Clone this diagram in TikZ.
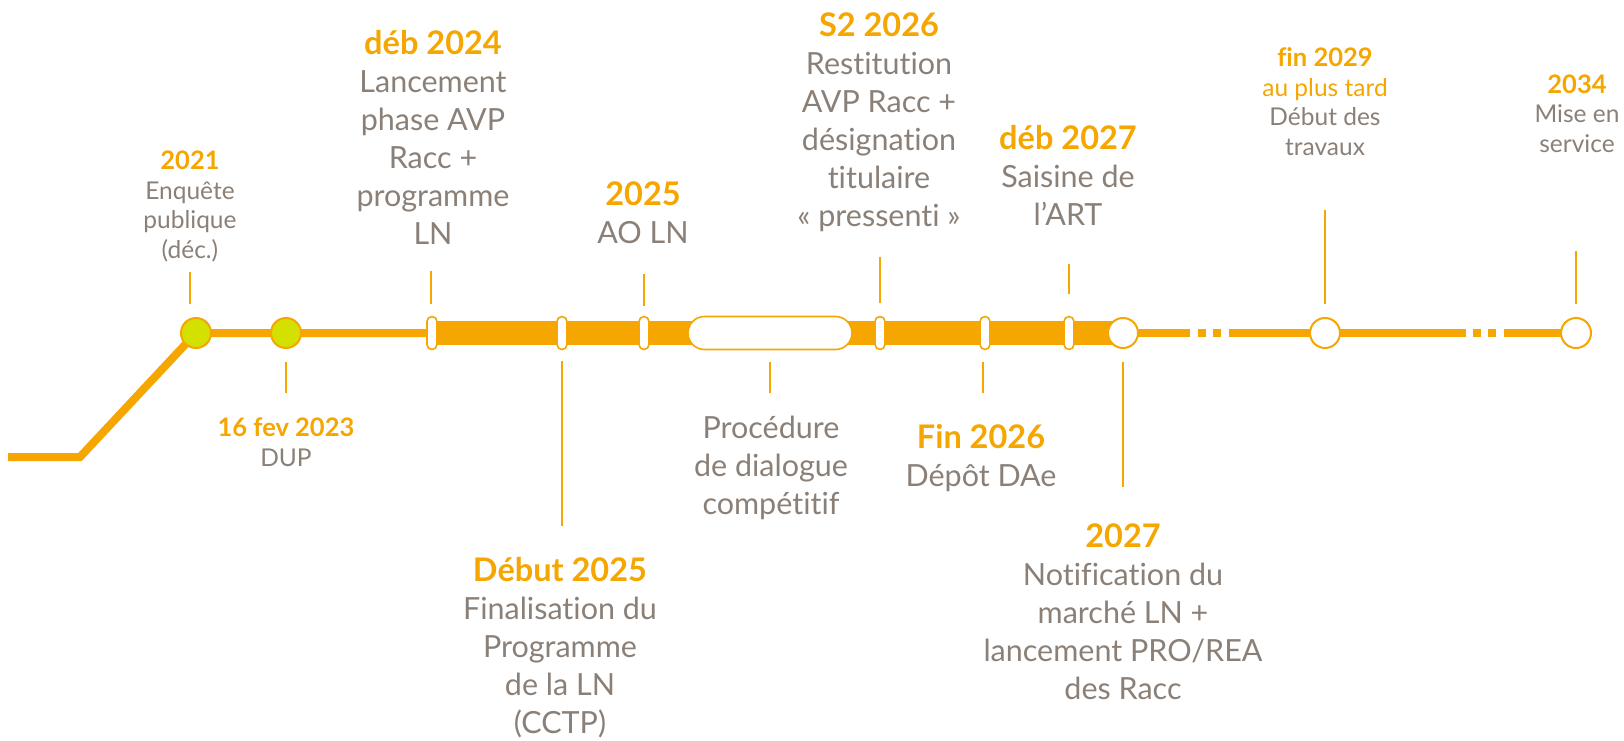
\documentclass[tikz,border=0pt]{standalone}
\usepackage{fontspec}
\setmainfont{Lato}[Ligatures={NoCommon}]
\definecolor{orng}{RGB}{245,166,0}
\definecolor{gry}{RGB}{138,128,119}
\definecolor{lime}{RGB}{212,224,0}
\begin{document}
\begin{tikzpicture}[x=1pt,y=-1pt,
  thintrack/.style={draw=orng,line width=8pt},
  thicktrack/.style={draw=orng,line width=24pt},
  tickline/.style={draw=orng,line width=1.6pt},
  pill/.style={draw=orng,fill=white,line width=1.6pt,rounded corners=5pt,minimum width=10pt,minimum height=33pt,inner sep=0pt},
  bigpill/.style={draw=orng,fill=white,line width=1.6pt,rounded corners=16.5pt,minimum width=164pt,minimum height=33pt,inner sep=0pt},
  ring/.style={circle,draw=orng,fill=white,line width=2pt,minimum size=30pt,inner sep=0pt},
  greendot/.style={circle,draw=orng,fill=lime,line width=2pt,minimum size=30pt,inner sep=0pt},
  sq/.style={fill=orng,minimum size=8pt,inner sep=0pt},
  biglabel/.style={align=center,font=\fontsize{30.5}{38}\selectfont,text=gry,anchor=base,inner sep=0pt},
  smalllabel/.style={align=center,font=\fontsize{24.5}{29.5}\selectfont,text=gry,anchor=base,inner sep=0pt}
]
\useasboundingbox (0,0) rectangle (1624,740);
\newcommand{\hdr}[1]{{\fontsize{32.5}{38}\selectfont\color{orng}\bfseries #1}}
\newcommand{\shdr}[1]{{\fontsize{25.5}{29.5}\selectfont\color{orng}\bfseries #1}}
% coordinates of milestones
\coordinate (start) at (8,457);
\coordinate (bend) at (80,457);
\coordinate (p1) at (196,333);
\coordinate (p2) at (286,333);
\coordinate (p3) at (432,333);
\coordinate (p4) at (562,333);
\coordinate (p5) at (644,333);
\coordinate (p6) at (770,333);
\coordinate (p7) at (880,333);
\coordinate (p8) at (985,333);
\coordinate (p9) at (1069,333);
\coordinate (p10) at (1123,333);
\coordinate (p11) at (1325,333);
\coordinate (p12) at (1576,333);
\coordinate (d1) at (1190,333);
\coordinate (d2) at (1229,333);
\coordinate (d3) at (1466,333);
\coordinate (d4) at (1504,333);
% track
\draw[thintrack] (start) -- (bend) -- (p1) -- (p3);
\draw[thicktrack] (p3) -- (p10);
\draw[thintrack] (p10) -- (d1);
\draw[thintrack] (d2) -- (d3);
\draw[thintrack] (d4) -- (p12);
\node[sq] (s1) at (1202,333) {};
\node[sq] (s2) at (1217,333) {};
\node[sq] (s3) at (1477,333) {};
\node[sq] (s4) at (1492,333) {};
% milestones
\node[greendot] (m1) at (p1) {};
\node[greendot] (m2) at (p2) {};
\node[pill] (m3) at (p3) {};
\node[pill] (m4) at (p4) {};
\node[pill] (m5) at (p5) {};
\node[bigpill] (m6) at (p6) {};
\node[pill] (m7) at (p7) {};
\node[pill] (m8) at (p8) {};
\node[pill] (m9) at (p9) {};
\node[ring] (m10) at (p10) {};
\node[ring] (m11) at (p11) {};
\node[ring] (m12) at (p12) {};
% ticks
\coordinate (t1a) at (190,272); \coordinate (t1b) at (190,304);
\coordinate (t2a) at (286,362); \coordinate (t2b) at (286,393);
\coordinate (t3a) at (431,271); \coordinate (t3b) at (431,304);
\coordinate (t4a) at (562,361); \coordinate (t4b) at (562,526);
\coordinate (t5a) at (644,274); \coordinate (t5b) at (644,306);
\coordinate (t6a) at (770,362); \coordinate (t6b) at (770,393);
\coordinate (t7a) at (880,257); \coordinate (t7b) at (880,303);
\coordinate (t8a) at (983,362); \coordinate (t8b) at (983,393);
\coordinate (t9a) at (1069,264); \coordinate (t9b) at (1069,294);
\coordinate (t10a) at (1123,362); \coordinate (t10b) at (1123,487);
\coordinate (t11a) at (1325,210); \coordinate (t11b) at (1325,304);
\coordinate (t12a) at (1576,251); \coordinate (t12b) at (1576,304);
\foreach \i in {1,...,12} {\draw[tickline] (t\i a) -- (t\i b);}
% labels (anchor = baseline of the last line)
\node[smalllabel] (l1) at (190,258) {\shdr{2021}\\Enquête\\publique\\(déc.)};
\node[smalllabel] (l2) at (286,466) {\shdr{16 fev 2023}\\DUP};
\node[biglabel] (l3) at (433,244) {\hdr{déb 2024}\\Lancement\\phase AVP\\Racc +\\programme\\LN};
\node[biglabel] (l4) at (560,733) {\hdr{Début 2025}\\Finalisation du\\Programme\\de la LN\\(CCTP)};
\node[biglabel] (l5) at (643,243) {\hdr{2025}\\AO LN};
\node[biglabel] (l6) at (771,514) {Procédure\\de dialogue\\compétitif};
\node[biglabel] (l7) at (879,226) {\hdr{S2 2026}\\Restitution\\AVP Racc +\\désignation\\titulaire\\« pressenti »};
\node[biglabel] (l8) at (981,486) {\hdr{Fin 2026}\\Dépôt DAe};
\node[biglabel] (l9) at (1068,225) {\hdr{déb 2027}\\Saisine de\\l’ART};
\node[biglabel] (l10) at (1123,699) {\hdr{2027}\\Notification du\\marché LN +\\lancement PRO/REA\\des Racc};
\node[smalllabel] (l11) at (1325,155) {\shdr{fin 2029}\\{\color{orng}au plus tard}\\Début des\\travaux};
\node[smalllabel] (l12) at (1577,152) {\shdr{2034}\\Mise en\\service};
\end{tikzpicture}
\end{document}
